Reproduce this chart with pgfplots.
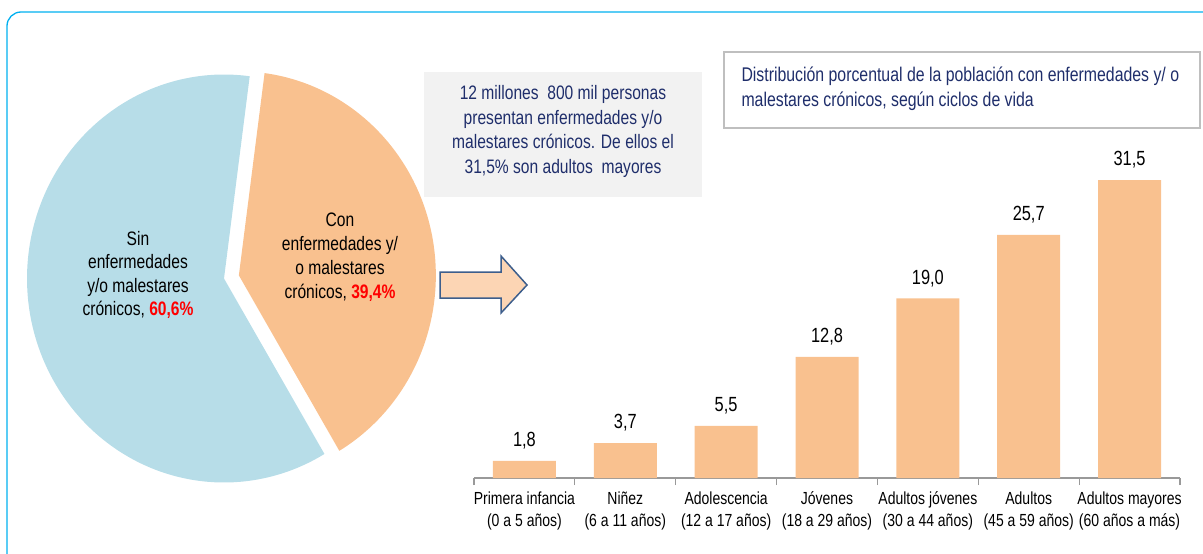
\documentclass[border=0pt]{standalone}
\usepackage{pgfplots}
\pgfplotsset{compat=1.18}
\usepackage{fontspec}
\setmainfont{Liberation Sans}[FakeStretch=0.8]
\definecolor{pieblue}{HTML}{B7DDE8}
\definecolor{pieorange}{HTML}{F9C18F}
\definecolor{navy}{HTML}{1F2E6B}
\definecolor{framecyan}{HTML}{00B0F0}
\definecolor{boxgray}{HTML}{F2F2F2}
\definecolor{boxborder}{HTML}{BFBFBF}
\definecolor{axisgray}{HTML}{999999}
\definecolor{arrowfill}{HTML}{FCD5B4}
\definecolor{arrowdraw}{HTML}{3D5E8C}
\pgfplotstableread{
x val
0 1.8
1 3.7
2 5.5
3 12.8
4 19.0
5 25.7
6 31.5
}\bardata
\def\pieA{60.6}
\def\pieB{39.4}
\def\startA{82.5}
\begin{document}
\begin{tikzpicture}
\useasboundingbox (0pt,0pt) rectangle (1203pt,-554pt);
\clip (0pt,0pt) rectangle (1203pt,-554pt);
\begin{scope}[x=1pt,y=-1pt]
\draw[framecyan, line width=1.3pt, rounded corners=14pt] (7,12) rectangle (1240,620);
\end{scope}
% Pie
\pgfmathsetmacro{\endA}{\startA+\pieA*3.6}
\pgfmathsetmacro{\endB}{\startA+360}
\pgfmathsetmacro{\midB}{(\endA+\endB)/2}
\begin{axis}[at={(224pt,-278.5pt)}, anchor=center, scale only axis, width=472.8pt, height=489.6pt,
  xmin=-1.2, xmax=1.2, ymin=-1.2, ymax=1.2, hide axis, clip=false]
\addplot[fill=pieblue, draw=none, domain=\startA:\endA, samples=150] ({cos(x)},{sin(x)}) -- (axis cs:0,0) -- cycle;
\addplot[fill=pieorange, draw=none, domain=\endA:\endB, samples=120] ({0.077*cos(\midB)+cos(x)},{0.077*sin(\midB)+sin(x)}) -- (axis cs:{0.077*cos(\midB)},{0.077*sin(\midB)}) -- cycle;
\end{axis}
\begin{scope}[x=1pt,y=-1pt]
\node[align=center, font=\fontsize{19.5}{23.5}\selectfont, text=black] at (138,275) {Sin\\enfermedades\\y/o malestares\\crónicos, \textcolor{red}{\textbf{60,6\%}}};
\node[align=center, font=\fontsize{19.5}{24}\selectfont, text=black] at (340,257) {Con\\enfermedades y/\\o malestares\\crónicos, \textcolor{red}{\textbf{39,4\%}}};
% gray box
\fill[boxgray] (424,72) rectangle (702,197);
\node[align=center, font=\fontsize{19.5}{24.5}\selectfont, text=navy] at (563,131.5) {12 millones\ \ 800 mil personas\\presentan enfermedades y/o\\malestares crónicos. De ellos el\\31,5\% son adultos\ \ mayores};
% title box
\draw[boxborder, line width=1.5pt, fill=white] (724,52) rectangle (1200,128);
\node[anchor=west, align=left, font=\fontsize{19.8}{25}\selectfont, text=navy] at (738,89) {Distribución porcentual de la población con enfermedades y/ o\\malestares crónicos, según ciclos de vida};
% arrow
\draw[arrowdraw, fill=arrowfill, line width=1.5pt, line join=miter] (440,272) -- (501,272) -- (501,256) -- (527,285) -- (501,313) -- (501,298) -- (440,298) -- cycle;
\end{scope}
% Bars
\begin{axis}[at={(474pt,-478pt)}, anchor=south west, scale only axis, width=706pt, height=338pt,
  xmin=-0.5, xmax=6.5, ymin=0, ymax=35.73,
  axis x line*=bottom, axis y line=none,
  axis line style={draw=axisgray, line width=1.2pt},
  xtick={0,...,6}, major tick length=0pt,
  minor xtick={-0.5,0.5,...,6.5}, minor tick length=7pt, tick align=outside,
  minor tick style={draw=axisgray, line width=1.2pt},
  xticklabels={{Primera infancia\\(0 a 5 años)},{Niñez\\(6 a 11 años)},{Adolescencia\\(12 a 17 años)},{Jóvenes\\(18 a 29 años)},{Adultos jóvenes\\(30 a 44 años)},{Adultos\\(45 a 59 años)},{Adultos mayores\\(60 años a más)}},
  xticklabel style={align=center, font=\fontsize{17.5}{22}\selectfont, text=black, yshift=-10pt},
  ybar, bar width=63pt,
  nodes near coords,
  /pgf/number format/.cd, fixed, fixed zerofill, precision=1, use comma, assume math mode=true,
  /pgfplots/.cd,
  nodes near coords style={font=\fontsize{20.5}{22}\selectfont, text=black, yshift=8pt},
  clip=false]
\addplot[fill=pieorange, draw=none] table[x=x, y=val] {\bardata};
\end{axis}
\end{tikzpicture}
\end{document}
